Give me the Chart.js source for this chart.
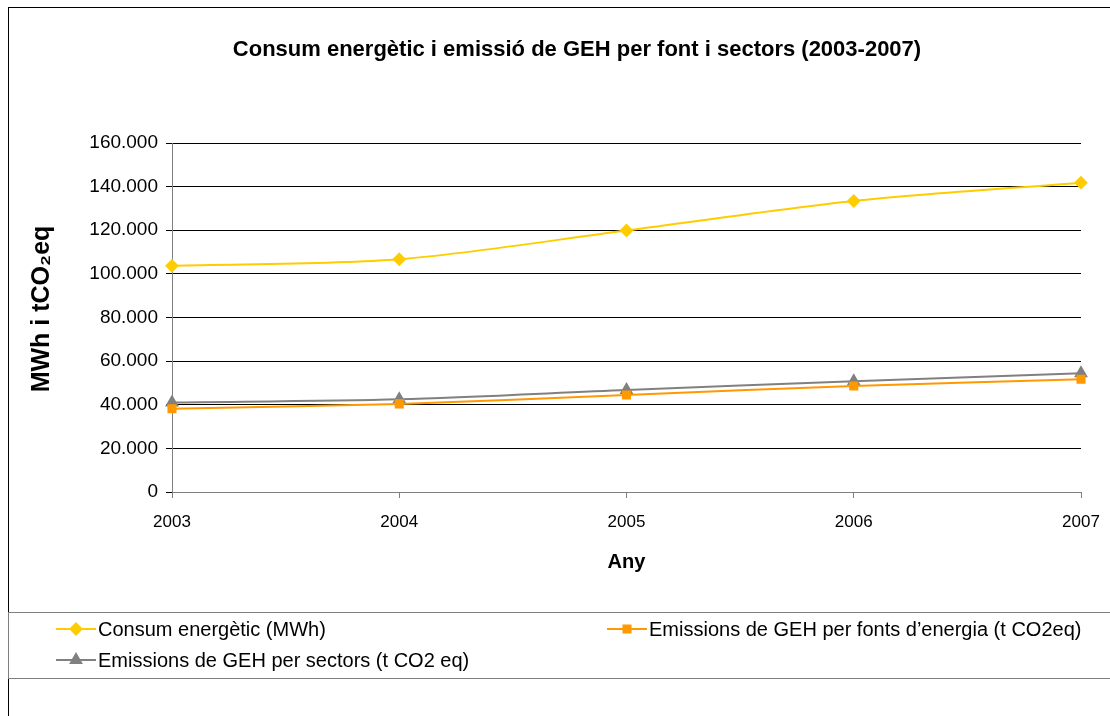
<!DOCTYPE html>
<html>
<head>
<meta charset="utf-8">
<title>Consum energètic i emissió de GEH</title>
<script src="https://cdn.jsdelivr.net/npm/chart.js@4.4.1/dist/chart.umd.min.js"></script>
<style>
  html, body { margin: 0; padding: 0; background: #ffffff; }
  #wrap { width: 1110px; height: 716px; position: relative; }
  canvas { display: block; }
</style>
</head>
<body>
<div id="wrap"><canvas id="chart" width="1110" height="716"></canvas></div>
<script>
// Years on the horizontal axis
const years = ['2003', '2004', '2005', '2006', '2007'];

// Energy consumption (MWh)
const consumEnergetic = [103700, 106700, 119900, 133400, 141800];
// GHG emissions by energy source (t CO2eq)
const emissionsFonts = [38200, 40400, 44500, 48600, 51700];
// GHG emissions by sector (t CO2 eq)
const emissionsSectors = [41000, 42500, 46800, 50800, 54400];

const seriesLabels = [
  'Consum energètic (MWh)',
  'Emissions de GEH per fonts d\u2019energia (t CO2eq)',
  'Emissions de GEH per sectors (t CO2 eq)'
];

const chartTitle = 'Consum energètic i emissió de GEH per font i sectors (2003-2007)';
const yTitle = 'MWh i tCO\u2082eq';
const xTitle = 'Any';

const FONT = '"Liberation Sans", Arial, sans-serif';

// Thousands separated by a dot: 160000 -> 160.000
function fmtThousands(v) {
  return String(Math.round(v)).replace(/\B(?=(\d{3})+(?!\d))/g, '.');
}

// Outer frame, titles and the boxed legend underneath the plot
const framePlugin = {
  id: 'frame',
  beforeDraw(chart) {
    const ctx = chart.ctx;
    ctx.save();
    ctx.fillStyle = '#ffffff';
    ctx.fillRect(0, 0, chart.width, chart.height);
    ctx.strokeStyle = '#000000';
    ctx.lineWidth = 1;
    ctx.strokeRect(8.5, 7.5, 1200, 800);
    ctx.restore();
  },
  afterDraw(chart) {
    const ctx = chart.ctx;
    ctx.save();
    // chart title
    ctx.fillStyle = '#000000';
    ctx.font = 'bold 22px ' + FONT;
    ctx.textAlign = 'center';
    ctx.textBaseline = 'middle';
    ctx.fillText(chartTitle, 577, 50);

    // vertical axis title
    ctx.save();
    ctx.translate(42, 309);
    ctx.rotate(-Math.PI / 2);
    ctx.font = 'bold 25px ' + FONT;
    ctx.fillText(yTitle, 0, 0);
    ctx.restore();

    // legend box
    ctx.strokeStyle = '#808080';
    ctx.lineWidth = 1;
    ctx.strokeRect(8.5, 612.5, 1200, 66);

    const items = [
      { ds: 0, x: 56, y: 629 },
      { ds: 1, x: 607, y: 629 },
      { ds: 2, x: 56, y: 660 }
    ];
    ctx.font = '20px ' + FONT;
    ctx.textAlign = 'left';
    ctx.textBaseline = 'middle';
    items.forEach(it => {
      const ds = chart.data.datasets[it.ds];
      ctx.strokeStyle = ds.borderColor;
      ctx.lineWidth = 2;
      ctx.beginPath();
      ctx.moveTo(it.x, it.y);
      ctx.lineTo(it.x + 40, it.y);
      ctx.stroke();
      ctx.fillStyle = ds.pointBackgroundColor;
      ctx.strokeStyle = ds.pointBorderColor;
      Chart.helpers.drawPoint(ctx, {
        pointStyle: ds.pointStyle,
        radius: ds.pointRadius,
        borderWidth: 1,
        rotation: 0
      }, it.x + 20, it.y);
      ctx.fillStyle = '#000000';
      ctx.fillText(ds.label, it.x + 42, it.y + 1);
    });
    ctx.restore();
  }
};

new Chart(document.getElementById('chart'), {
  type: 'line',
  data: {
    labels: years,
    datasets: [
      {
        label: seriesLabels[0],
        data: consumEnergetic,
        borderColor: '#FFCC00',
        backgroundColor: '#FFCC00',
        pointBackgroundColor: '#FFCC00',
        pointBorderColor: '#FFCC00',
        pointStyle: 'rectRot',
        pointRadius: 5.5,
        borderWidth: 2,
        tension: 0.3,
        clip: false
      },
      {
        label: seriesLabels[1],
        data: emissionsFonts,
        borderColor: '#FF9900',
        backgroundColor: '#FF9900',
        pointBackgroundColor: '#FF9900',
        pointBorderColor: '#FF9900',
        pointStyle: 'rect',
        pointRadius: 5,
        borderWidth: 2,
        tension: 0.3,
        clip: false
      },
      {
        label: seriesLabels[2],
        data: emissionsSectors,
        borderColor: '#808080',
        backgroundColor: '#808080',
        pointBackgroundColor: '#808080',
        pointBorderColor: '#808080',
        pointStyle: 'triangle',
        pointRadius: 6,
        borderWidth: 2,
        tension: 0.3,
        clip: false
      }
    ]
  },
  options: {
    responsive: false,
    animation: false,
    devicePixelRatio: 1,
    layout: { padding: { left: 30, right: 29, top: 143, bottom: 142 } },
    plugins: {
      legend: { display: false },
      title: { display: false },
      tooltip: { enabled: false }
    },
    scales: {
      x: {
        type: 'category',
        offset: false,
        grid: {
          display: true,
          drawOnChartArea: false,
          color: '#808080',
          tickLength: 6
        },
        border: { display: true, color: '#808080', width: 1 },
        ticks: {
          color: '#000000',
          font: { family: FONT, size: 17 },
          padding: 14,
          maxRotation: 0,
          autoSkip: false
        },
        title: {
          display: true,
          text: xTitle,
          color: '#000000',
          font: { family: FONT, size: 20, weight: 'bold' },
          padding: 0
        },
        afterFit(scale) {
          scale.height = 82;
          // end labels fit inside the layout padding already
          scale.paddingLeft = 0;
          scale.paddingRight = 0;
        }
      },
      y: {
        min: 0,
        max: 160000,
        ticks: {
          stepSize: 20000,
          color: '#000000',
          font: { family: FONT, size: 19 },
          padding: 8,
          callback: v => fmtThousands(v)
        },
        grid: {
          color: '#000000',
          lineWidth: 1,
          tickLength: 6
        },
        border: { display: true, color: '#808080', width: 1 },
        title: { display: false },
        afterFit(scale) { scale.width = 142; }
      }
    }
  },
  plugins: [framePlugin]
});
</script>
</body>
</html>
